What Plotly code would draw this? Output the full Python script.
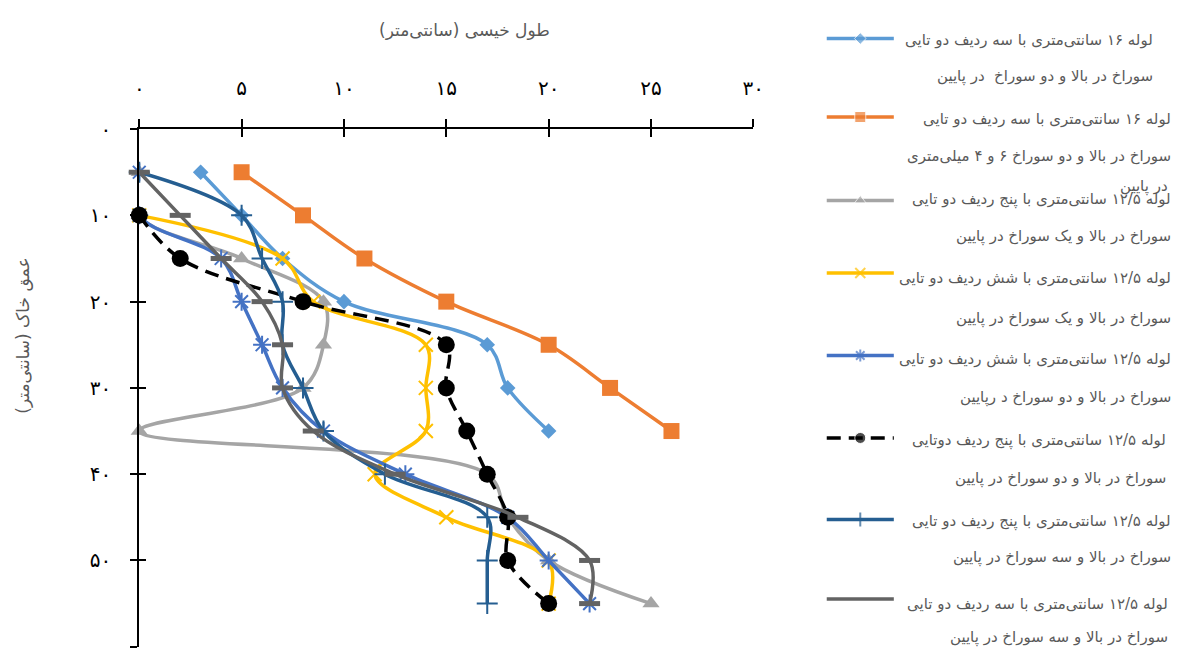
import plotly.graph_objects as go

W, H = 1184, 648

# Soil depth (cm) at which the wetting length was measured
depth_cm = [5, 10, 15, 20, 25, 30, 35, 40, 45, 50, 55]

# Wetting length (cm) per pipe configuration
pipe16_3rows_2holes = [3, 5, 7, 10, 17, 18, 20]                 # depths 5-35
pipe16_3rows_6and4mm = [5, 8, 11, 15, 20, 23, 26]               # depths 5-35
pipe125_5rows_1hole = [0, 0, 5, 9, 9, 8, 0, 17, 18, 20, 25]     # depths 5-55
pipe125_6rows_1hole = [0, 7, 8.5, 14, 14, 14, 11.5, 15, 20, 20]  # depths 10-55
pipe125_6rows_2holes = [0, 0, 4, 5, 6, 7, 9, 13, 18, 20, 22]    # depths 5-55
pipe125_5rows_2holes = [0, 2, 8, 15, 15, 16, 17, 18, 18, 20]    # depths 10-55
pipe125_5rows_3holes = [0, 5, 6, 7, 7, 8, 9, 12, 17, 17, 17]    # depths 5-55
pipe125_3rows_3holes = [0, 2, 4, 6, 7, 7, 8.5, 12.5, 18.5, 22, 22]  # depths 5-55

x_tick_vals = [0, 5, 10, 15, 20, 25, 30]
x_tick_text = ["۰", "۵", "۱۰", "۱۵", "۲۰", "۲۵", "۳۰"]
y_tick_vals = [0, 10, 20, 30, 40, 50, 60]
y_tick_text = ["۰", "۱۰", "۲۰", "۳۰", "۴۰", "۵۰", "۶۰"]

x_title = "طول خیسی (سانتی‌متر)"
y_title = "عمق خاک (سانتی‌متر)"

legend_labels = [
    ("لوله ۱۶ سانتی‌متری با سه ردیف دو تایی", "سوراخ در بالا و دو سوراخ  در پایین"),
    ("لوله ۱۶ سانتی‌متری با سه ردیف دو تایی", "سوراخ در بالا و دو سوراخ ۶ و ۴ میلی‌متری"),
    ("لوله ۱۲/۵ سانتی‌متری با پنج ردیف دو تایی", "سوراخ در بالا و یک سوراخ در پایین"),
    ("لوله ۱۲/۵ سانتی‌متری با شش ردیف دو تایی", "سوراخ در بالا و یک سوراخ در پایین"),
    ("لوله ۱۲/۵ سانتی‌متری با شش ردیف دو تایی", "سوراخ در بالا و دو سوراخ د رپایین"),
    ("لوله ۱۲/۵ سانتی‌متری با پنج ردیف دوتایی", "سوراخ در بالا و دو سوراخ در پایین"),
    ("لوله ۱۲/۵ سانتی‌متری با پنج ردیف دو تایی", "سوراخ در بالا و سه سوراخ در پایین"),
    ("لوله ۱۲/۵ سانتی‌متری با سه ردیف دو تایی", "سوراخ در بالا و سه سوراخ در پایین"),
]
legend_overflow = "در پایین"

RLM = "\u200f"


def rtl(s):
    return RLM + s + RLM


FONT = "DejaVu Sans"
TEXT_GREY = "#595959"
CLEAR = "rgba(0,0,0,0)"

series = [
    dict(x=pipe16_3rows_2holes, y=depth_cm[:7], color="#5B9BD5",
         marker=dict(symbol="diamond", size=12), dash="solid", lsym=9),
    dict(x=pipe16_3rows_6and4mm, y=depth_cm[:7], color="#ED7D31",
         marker=dict(symbol="square", size=16), dash="solid", lsym=11),
    dict(x=pipe125_5rows_1hole, y=depth_cm, color="#A5A5A5",
         marker=dict(symbol="triangle-up", size=15), dash="solid", lsym=10),
    dict(x=pipe125_6rows_1hole, y=depth_cm[1:], color="#FFC000",
         marker=dict(symbol="x-thin", size=14, line=dict(width=2, color="#FFC000")),
         dash="solid", lsym=10),
    dict(x=pipe125_6rows_2holes, y=depth_cm, color="#4472C4",
         marker=dict(symbol="asterisk", size=15, line=dict(width=2, color="#4472C4")),
         dash="solid", lsym=10),
    dict(x=pipe125_5rows_2holes, y=depth_cm[1:], color="#000000",
         marker=dict(symbol="circle", size=17), dash="14px,8px", lsym=11),
    dict(x=pipe125_5rows_3holes, y=depth_cm, color="#255E91",
         marker=dict(symbol="cross-thin", size=15, line=dict(width=2, color="#255E91")),
         dash="solid", lsym=10),
    dict(x=pipe125_3rows_3holes, y=depth_cm, color="#636363",
         marker=dict(symbol="line-ew", size=15, line=dict(width=5, color="#636363")),
         dash="solid", lsym=0),
]

fig = go.Figure()

for s in series:
    fig.add_trace(go.Scatter(
        x=s["x"], y=s["y"], mode="lines+markers",
        line=dict(color=s["color"], width=3.5, shape="spline", smoothing=1, dash=s["dash"]),
        marker=dict(color=s["color"], **s["marker"]),
        cliponaxis=False, showlegend=False, xaxis="x", yaxis="y",
    ))

# Legend block, laid out in page pixels on a hidden overlay axis
legend_keys_y = [27, 107, 192, 266, 350, 434, 517, 598]
legend_line1_y = [29, 109, 191, 271, 354, 437, 519, 603]
legend_line2_y = [66, 147, 229, 312, 393, 475, 556, 637]
legend_right = [1166, 1184, 1184, 1184, 1184, 1179, 1184, 1181]
overflow_pos = (1181, 178)
key_x0, key_x1 = 833, 901

for s, ky in zip(series, legend_keys_y):
    mk = dict(s["marker"])
    mk["size"] = [0, s["lsym"], 0]
    fig.add_trace(go.Scatter(
        x=[key_x0, (key_x0 + key_x1) / 2, key_x1], y=[ky, ky, ky],
        mode="lines+markers",
        line=dict(color=s["color"], width=3.5, dash=s["dash"]),
        marker=dict(color=s["color"], **mk),
        cliponaxis=False, showlegend=False, xaxis="x3", yaxis="y3", hoverinfo="skip",
    ))

LEGEND_FONT = dict(family=FONT, size=15, color=TEXT_GREY)
annotations = []
for (l1, l2), y1, y2, right in zip(legend_labels, legend_line1_y, legend_line2_y, legend_right):
    for txt, ty in ((l1, y1), (l2, y2)):
        annotations.append(dict(
            text=rtl(txt), x=right, y=ty, xref="x3", yref="y3",
            xanchor="right", yanchor="middle", showarrow=False, font=LEGEND_FONT,
        ))
annotations.append(dict(
    text=rtl(legend_overflow), x=overflow_pos[0], y=overflow_pos[1], xref="x3", yref="y3",
    xanchor="right", yanchor="middle", showarrow=False, font=LEGEND_FONT,
))
annotations.append(dict(
    text=rtl(x_title), x=466, y=18, xref="x3", yref="y3",
    xanchor="center", yanchor="middle", showarrow=False,
    font=dict(family=FONT, size=17, color=TEXT_GREY),
))
annotations.append(dict(
    text=rtl(y_title), x=18, y=330, xref="x3", yref="y3",
    xanchor="center", yanchor="middle", showarrow=False, textangle=-90,
    font=dict(family=FONT, size=17, color=TEXT_GREY),
))

# plot area in page pixels: left, right, top, bottom
PX_L, PX_R, PX_T, PX_B = 136.1, 758.6, 119.3, 646.7
x_dom = [PX_L / W, PX_R / W]
y_dom = [1 - PX_B / H, 1 - PX_T / H]

tick_font = dict(family=FONT, size=20, color="#000000")

fig.update_layout(
    width=W, height=H,
    margin=dict(l=0, r=0, t=0, b=0),
    paper_bgcolor="white", plot_bgcolor=CLEAR,
    showlegend=False,
    annotations=annotations,
    xaxis=dict(
        domain=x_dom, range=[0, 30], side="top", anchor="y",
        tickvals=x_tick_vals, ticktext=x_tick_text, tickfont=tick_font,
        ticks="outside", ticklen=8, tickwidth=1.5, tickcolor="black",
        showline=True, linecolor="black", linewidth=2,
        showgrid=False, zeroline=False, ticklabelstandoff=16,
    ),
    yaxis=dict(
        domain=y_dom, range=[60, 0], anchor="x",
        tickvals=y_tick_vals, ticktext=y_tick_text, tickfont=tick_font,
        ticks="outside", ticklen=7, tickwidth=1.5, tickcolor="black",
        showline=True, linecolor="black", linewidth=2,
        showgrid=False, zeroline=False, ticklabelstandoff=15,
    ),
    # inner halves of the crossing tick marks
    xaxis2=dict(
        domain=x_dom, range=[0, 30], side="top", overlaying="x", anchor="y",
        tickvals=x_tick_vals, showticklabels=False,
        ticks="inside", ticklen=8, tickwidth=1.5, tickcolor="black",
        showline=False, showgrid=False, zeroline=False,
    ),
    yaxis2=dict(
        domain=y_dom, range=[60, 0], overlaying="y", anchor="x",
        tickvals=y_tick_vals, showticklabels=False,
        ticks="inside", ticklen=7, tickwidth=1.5, tickcolor="black",
        showline=False, showgrid=False, zeroline=False,
    ),
    xaxis3=dict(domain=[0, 1], range=[0, W], anchor="y3", visible=False, fixedrange=True),
    yaxis3=dict(domain=[0, 1], range=[H, 0], anchor="x3", visible=False, fixedrange=True),
)

# keep the overlay axes on the page even though they carry no data
fig.add_trace(go.Scatter(x=[None], y=[None], xaxis="x2", yaxis="y2", showlegend=False, hoverinfo="skip"))

fig.write_html("out.html", config={"displayModeBar": False})
